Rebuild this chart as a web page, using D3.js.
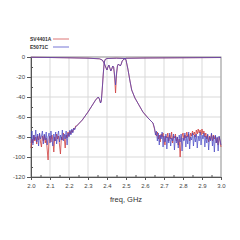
<!DOCTYPE html>
<html>
<head>
<meta charset="utf-8">
<script src="https://cdn.jsdelivr.net/npm/d3@7"></script>
<style>
  body { margin: 0; background: #fff; }
  svg { display: block; font-family: "Liberation Sans", Arial, sans-serif; }
</style>
</head>
<body>
<div id="chart"></div>
<script>
// series names (legend)
var seriesNames = ["SV4401A", "E5071C"];
var seriesColors = ["#d04040", "#4040c4"];

// tick labels
var xTickValues = [2.0, 2.1, 2.2, 2.3, 2.4, 2.5, 2.6, 2.7, 2.8, 2.9, 3.0];
var yTickValues = [0, -20, -40, -60, -80, -100, -120];
var xLabel = "freq, GHz";

// noise floor sweeps (dB), 5 MHz steps
var leftNoiseStart = 2.0, rightNoiseStart = 2.65, noiseStep = 0.005;
var svLeftNoise = [-91, -82, -86, -78, -84, -80, -87, -79, -83, -77, -85, -90, -79, -84, -78, -86,
  -81, -92, -103, -82, -79, -85, -78, -83, -95, -80, -84, -77, -82, -79, -88, -97, -80, -83, -76,
  -81, -91, -78, -81, -75, -79, -74, -77, -73, -75, -71, -72, -69, -69];
var enLeftNoise = [-86, -74, -88, -78, -83, -73, -85, -77, -89, -76, -82, -79, -74, -87, -77, -83,
  -75, -88, -80, -76, -86, -74, -82, -89, -77, -84, -75, -87, -79, -74, -85, -78, -83, -73, -84,
  -77, -82, -74, -88, -76, -80, -73, -78, -72, -76, -71, -73, -70, -69];
var svRightNoise = [-72, -76, -79, -75, -82, -78, -85, -77, -80, -76, -83, -88, -79, -81, -76, -84,
  -78, -82, -75, -86, -79, -81, -77, -84, -80, -88, -82, -100, -84, -79, -76, -83, -78, -81, -75,
  -80, -77, -84, -76, -79, -74, -78, -75, -80, -73, -77, -72, -76, -73, -78, -72, -77, -74, -80,
  -76, -82, -78, -85, -79, -83, -77, -84, -78, -82, -79, -86, -81, -88, -80, -84, -90];
var enRightNoise = [-71, -78, -74, -84, -76, -88, -78, -82, -75, -90, -79, -85, -77, -92, -80, -86,
  -76, -89, -81, -84, -77, -93, -79, -86, -80, -91, -78, -85, -77, -94, -81, -84, -76, -90, -79,
  -87, -75, -92, -80, -83, -76, -89, -78, -85, -77, -91, -79, -84, -75, -88, -78, -82, -76, -90,
  -79, -86, -77, -93, -80, -84, -76, -89, -79, -95, -78, -86, -80, -94, -79, -83, -88];

// filter skirts / passband of the transmission trace [GHz, dB]
var s21Skirt = [[2.245, -68], [2.27, -63], [2.30, -55], [2.32, -49], [2.34, -43], [2.354, -40],
  [2.36, -42], [2.366, -46], [2.37, -44], [2.375, -32], [2.38, -18], [2.385, -6], [2.39, -2.5],
  [2.40, -1.5], [2.45, -1.2], [2.495, -1.5], [2.50, -3], [2.51, -12], [2.52, -23], [2.53, -33],
  [2.547, -41], [2.565, -47], [2.589, -55], [2.616, -61], [2.642, -66]];

// reflection trace [GHz, dB]
var svS11 = [[2.0, -0.3], [2.1, -0.5], [2.2, -0.8], [2.3, -1.2], [2.36, -1.8], [2.375, -3],
  [2.385, -6], [2.395, -11], [2.40, -13], [2.405, -10], [2.41, -8], [2.415, -11], [2.42, -14],
  [2.425, -12], [2.43, -9], [2.435, -10], [2.44, -20], [2.445, -36], [2.45, -18], [2.455, -9],
  [2.46, -7], [2.465, -8], [2.47, -9], [2.475, -7], [2.48, -4], [2.49, -2], [2.50, -1.3],
  [2.6, -1], [3.0, -0.5]];
var enS11 = [[2.0, -0.3], [2.1, -0.5], [2.2, -0.8], [2.3, -1.2], [2.36, -1.8], [2.375, -3],
  [2.385, -6], [2.395, -11], [2.40, -13], [2.405, -10], [2.41, -8], [2.415, -11], [2.42, -14],
  [2.425, -12], [2.43, -9], [2.435, -10], [2.44, -18], [2.445, -28], [2.45, -16], [2.455, -9],
  [2.46, -7], [2.465, -8], [2.47, -9], [2.475, -7], [2.48, -4], [2.49, -2], [2.50, -1.3],
  [2.6, -1], [3.0, -0.5]];

// size and margin
var width = 240, height = 240;
var margin = {top: 57, right: 19, bottom: 63, left: 31};
var inner_width = width - margin.left - margin.right;
var inner_height = height - margin.top - margin.bottom;

var svg = d3.select("#chart").append("svg")
            .attr("width", width)
            .attr("height", height);
var g = svg.append("g")
           .attr("transform", "translate(" + margin.left + "," + margin.top + ")");

var xScale = d3.scaleLinear().domain([2, 3]).range([0, inner_width]);
var yScale = d3.scaleLinear().domain([-120, 0]).range([inner_height, 0]);

// grid
g.append("g").selectAll("line")
 .data(xTickValues)
 .enter().append("line")
 .attr("x1", function(d) { return xScale(d); })
 .attr("x2", function(d) { return xScale(d); })
 .attr("y1", 0).attr("y2", inner_height)
 .attr("stroke", "#d9d9d9");
g.append("g").selectAll("line")
 .data(yTickValues)
 .enter().append("line")
 .attr("y1", function(d) { return yScale(d); })
 .attr("y2", function(d) { return yScale(d); })
 .attr("x1", 0).attr("x2", inner_width)
 .attr("stroke", "#d9d9d9");
g.append("rect")
 .attr("width", inner_width).attr("height", inner_height)
 .attr("fill", "none").attr("stroke", "#a0a0a0");

// minor ticks (halfway between labelled ticks)
var xMinor = d3.range(2.05, 3, 0.1);
var yMinor = d3.range(-110, 0, 20);
g.append("g").attr("transform", "translate(0," + inner_height + ")")
 .call(d3.axisBottom(xScale).tickValues(xMinor).tickSize(-2).tickFormat(""))
 .call(function(a) { a.select(".domain").remove(); a.selectAll("line").attr("stroke", "#555"); });
g.append("g")
 .call(d3.axisLeft(yScale).tickValues(yMinor).tickSize(-2).tickFormat(""))
 .call(function(a) { a.select(".domain").remove(); a.selectAll("line").attr("stroke", "#555"); });

// main axes
var xAxis = g.append("g")
 .attr("transform", "translate(0," + inner_height + ")")
 .call(d3.axisBottom(xScale).tickValues(xTickValues).tickSize(3).tickSizeOuter(0).tickPadding(4)
   .tickFormat(d3.format(".1f")));
var yAxis = g.append("g")
 .call(d3.axisLeft(yScale).tickValues(yTickValues).tickSize(4).tickSizeOuter(0).tickPadding(2)
   .tickFormat(function(d) { return d; }));
[xAxis, yAxis].forEach(function(a) {
  a.select(".domain").attr("stroke", "#555");
  a.selectAll("line").attr("stroke", "#555");
  a.selectAll("text").attr("fill", "#444").attr("font-size", 6)
   .attr("font-family", "'Liberation Sans', Arial, sans-serif");
});

svg.append("text")
   .text(xLabel)
   .attr("x", margin.left + inner_width / 2)
   .attr("y", 202)
   .attr("text-anchor", "middle")
   .attr("font-size", 7.5)
   .attr("fill", "#333");

// build traces
function noisePoints(values, start) {
  return values.map(function(v, i) { return [start + i * noiseStep, v]; });
}
var traces = [
  {s21: noisePoints(svLeftNoise, leftNoiseStart).concat(s21Skirt, noisePoints(svRightNoise, rightNoiseStart)), s11: svS11},
  {s21: noisePoints(enLeftNoise, leftNoiseStart).concat(s21Skirt, noisePoints(enRightNoise, rightNoiseStart)), s11: enS11}
];

var line = d3.line()
             .x(function(d) { return xScale(d[0]); })
             .y(function(d) { return yScale(d[1]); });

traces.forEach(function(t, i) {
  [t.s21, t.s11].forEach(function(pts) {
    g.append("path")
     .datum(pts)
     .attr("fill", "none")
     .attr("stroke", seriesColors[i])
     .attr("stroke-width", 0.9)
     .attr("stroke-opacity", i === 1 ? 0.75 : 0.9)
     .attr("stroke-linejoin", "round")
     .attr("d", line);
  });
});

// legend
var legend = svg.append("g");
seriesNames.forEach(function(name, i) {
  var y = 39 + i * 8;
  legend.append("text")
        .text(name)
        .attr("x", 30).attr("y", y + 2)
        .attr("font-size", 5).attr("font-weight", "bold")
        .attr("fill", "#333");
  legend.append("line")
        .attr("x1", 53).attr("x2", 69)
        .attr("y1", y).attr("y2", y)
        .attr("stroke", seriesColors[i]).attr("stroke-width", 0.9)
        .attr("stroke-opacity", 0.8);
});
</script>
</body>
</html>
